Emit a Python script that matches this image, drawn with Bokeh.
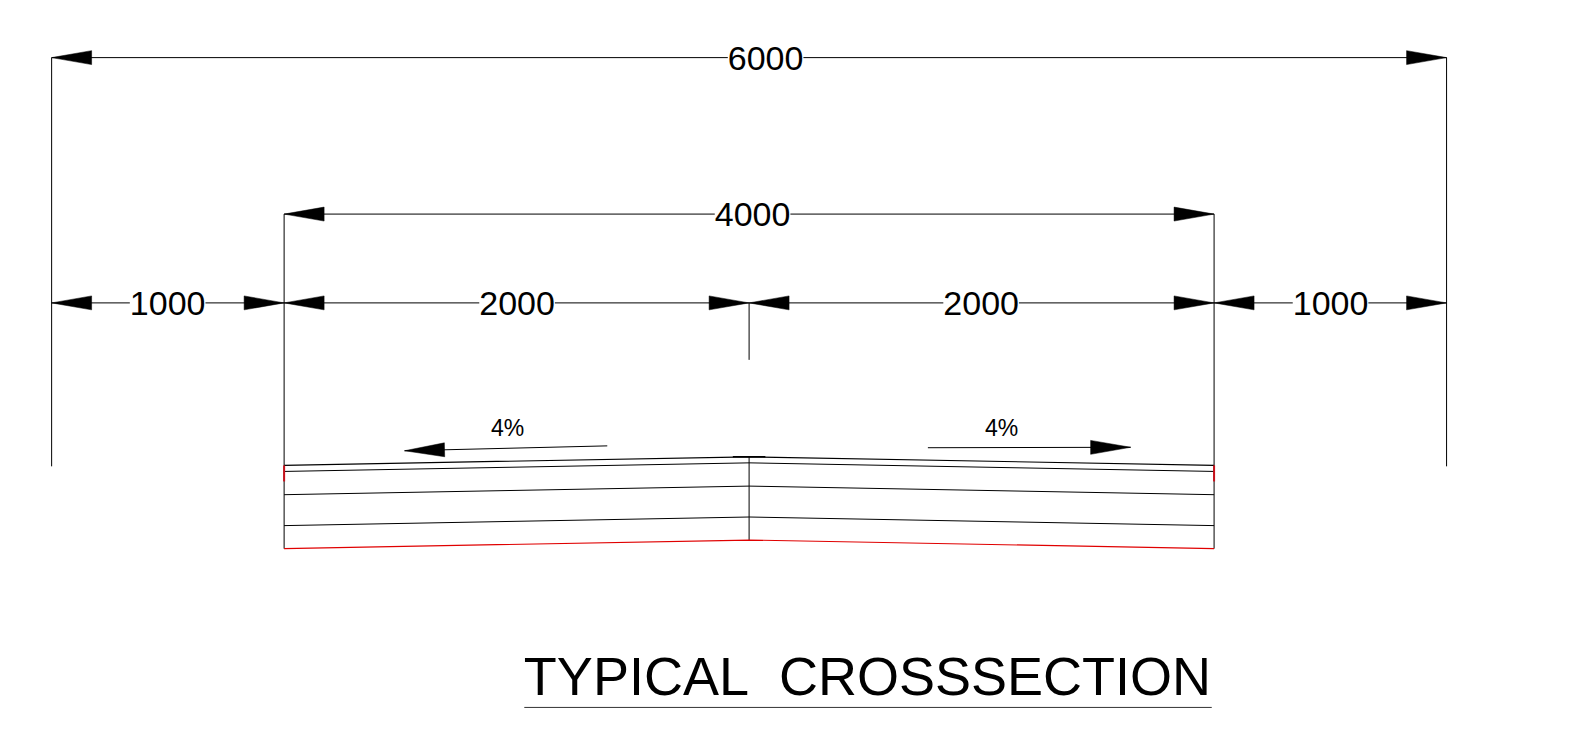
from bokeh.plotting import figure
from bokeh.embed import file_html
from bokeh.resources import INLINE
from bokeh.core.properties import value

# Drawing values, in drawing units, centre line at x = 0, crown at y = 0
half_width = 3000
shoulder = 2000
crossfall_drop = 37
layer_depths = [26, 126, 259, 358]
top_flat = 70
extent_dim_y = 1717
carriageway_dim_y = 1044
part_dim_y = 662
centre_tick_bottom = 417
red_tick_bottom = 106
outer_ext_bottom = -41

dim_labels = ["6000", "4000", "1000", "2000", "2000", "1000"]
dim_label_x = [71, 15, -2501, -998, 998, 2501]
dim_label_y = [1714, 1041, 659, 659, 659, 659]
dim_spans = [(-3000, 3000, 1717), (-2000, 2000, 1044), (-3000, -2000, 662),
             (-2000, 0, 662), (0, 2000, 662), (2000, 3000, 662)]

slope_labels = ["4%", "4%"]
slope_label_x = [-1039, 1086]
slope_label_y = [124, 124]
slope_arrows = [(-610, 47, -1482, 26), (769, 39, 1641, 41)]  # tail x, tail y, tip x, tip y

title_text = "TYPICAL\u00a0\u00a0CROSSSECTION"
title_x = 509
title_y = -942
title_rule = (-967, 1990, -1078)

k = 0.23249  # pixels per drawing unit
cx, cy = 748.6, 456.3
W, H = 1573, 730
head_len, head_half = 172, 30

p = figure(width=W, height=H, output_backend="svg", toolbar_location=None,
           x_axis_type=None, y_axis_type=None,
           x_range=(-cx / k, (W - cx) / k),
           y_range=((cy - H) / k, cy / k),
           min_border=0, outline_line_color=None, background_fill_color="white",
           border_fill_color="white")
p.grid.visible = False

black = "#000000"
red = "#e00000"


def arrow(xt, yt, xh, yh):
    L = ((xh - xt) ** 2 + (yh - yt) ** 2) ** 0.5
    ux, uy = (xh - xt) / L, (yh - yt) / L
    bx, by = xh - ux * head_len, yh - uy * head_len
    return [xh, bx - uy * head_half, bx + uy * head_half], [yh, by + ux * head_half, by - ux * head_half]


# extension lines
ext_x0 = [-half_width, half_width, -shoulder, shoulder, 0, 0]
ext_y0 = [extent_dim_y, extent_dim_y, carriageway_dim_y, carriageway_dim_y, part_dim_y, 0]
ext_y1 = [outer_ext_bottom, outer_ext_bottom, -crossfall_drop - layer_depths[-1],
          -crossfall_drop - layer_depths[-1], centre_tick_bottom, -layer_depths[-1]]
p.segment(ext_x0, ext_y0, ext_x0, ext_y1, line_color=black, line_width=1)

# dimension lines + arrowheads
hx, hy = [], []
for x0, x1, y in dim_spans:
    p.line([x0, x1], [y, y], line_color=black, line_width=1)
    mid = (x0 + x1) / 2
    for a, b in ((mid, x0), (mid, x1)):
        ax, ay = arrow(a, y, b, y)
        hx.append(ax)
        hy.append(ay)
for xt, yt, xh, yh in slope_arrows:
    p.line([xt, xh], [yt, yh], line_color=black, line_width=1)
    ax, ay = arrow(xt, yt, xh, yh)
    hx.append(ax)
    hy.append(ay)
p.patches(hx, hy, fill_color=black, line_color=black, line_width=0.5)

# pavement layers
p.line([-shoulder, 0, shoulder], [-crossfall_drop, 0, -crossfall_drop], line_color=black, line_width=1.2)
for d in layer_depths[:-1]:
    p.line([-shoulder, 0, shoulder], [-crossfall_drop - d, -d, -crossfall_drop - d], line_color=black, line_width=1)
d = layer_depths[-1]
p.line([-shoulder, 0, shoulder], [-crossfall_drop - d, -d, -crossfall_drop - d], line_color=red, line_width=1.2)
p.line([-top_flat, top_flat], [0, 0], line_color=black, line_width=1.6)
p.segment([-shoulder, shoulder], [-crossfall_drop, -crossfall_drop],
          [-shoulder, shoulder], [-red_tick_bottom, -red_tick_bottom], line_color="#c8101a", line_width=2)

# texts
p.text(dim_label_x, dim_label_y, text=dim_labels, text_font=value("Liberation Sans"),
       text_font_size="34px", text_align="center", text_baseline="middle", text_color=black,
       background_fill_color="white")
p.text(slope_label_x, slope_label_y, text=slope_labels, text_font=value("Liberation Sans"),
       text_font_size="23px", text_align="center", text_baseline="middle", text_color=black)
p.text([title_x], [title_y], text=[title_text], text_font=value("Liberation Sans"),
       text_font_size="54px", text_align="center", text_baseline="middle", text_color=black)
p.line(list(title_rule[:2]), [title_rule[2]] * 2, line_color="#333333", line_width=1)

open("out.html", "w").write(file_html(p, INLINE))
